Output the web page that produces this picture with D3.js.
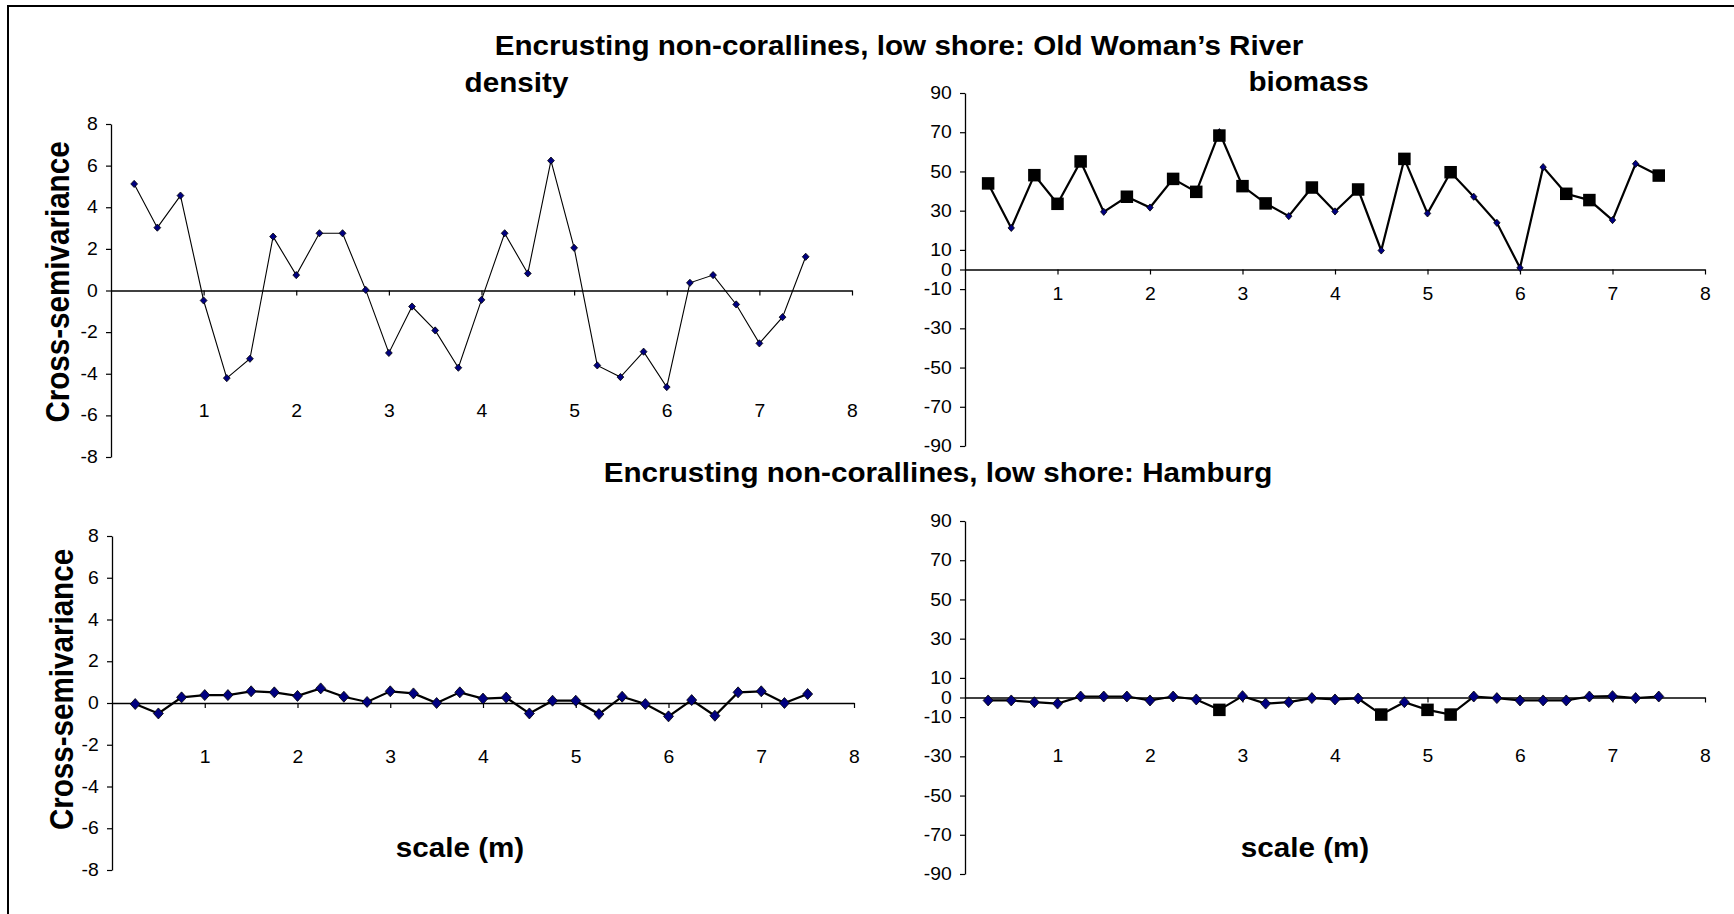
<!DOCTYPE html>
<html>
<head>
<meta charset="utf-8">
<script src="https://cdn.jsdelivr.net/npm/d3@7"></script>
<style>
  html, body { margin: 0; padding: 0; background: #fff; }
  svg { display: block; }
  text { font-family: "Liberation Sans", Arial, Helvetica, sans-serif; fill: #000; }
</style>
</head>
<body>
<svg id="chart" width="1734" height="914"></svg>
<script>
// Lag distances (m) shared by all four cross-semivariograms
const scaleM = [0.25, 0.5, 0.75, 1.0, 1.25, 1.5, 1.75, 2.0, 2.25, 2.5, 2.75, 3.0, 3.25, 3.5, 3.75,
                4.0, 4.25, 4.5, 4.75, 5.0, 5.25, 5.5, 5.75, 6.0, 6.25, 6.5, 6.75, 7.0, 7.25, 7.5];

// Old Woman's River
const densityOWR = [5.12, 3.02, 4.56, -0.48, -4.21, -3.28, 2.59, 0.74, 2.75, 2.75, 0.03, -3.0, -0.77, -1.92, -3.71,
                    -0.45, 2.75, 0.82, 6.24, 2.05, -3.6, -4.16, -2.94, -4.64, 0.37, 0.74, -0.67, -2.54, -1.28, 1.62];
const biomassOWR = [43.9, 21.2, 48.1, 33.5, 55.1, 29.4, 37.1, 31.6, 46.2, 39.6, 70.0, 42.5, 33.7, 27.2, 41.8,
                    29.6, 40.8, 9.7, 56.4, 28.6, 49.6, 37.1, 23.8, 0.85, 52.2, 38.6, 35.4, 25.2, 53.9, 47.9];
const biomassOWRSig = [43.9, null, 48.1, 33.5, 55.1, null, 37.1, null, 46.2, 39.6, 68.3, 42.5, 33.7, null, 41.8,
                       null, 40.8, null, 56.4, null, 49.6, null, null, null, null, 38.6, 35.4, null, null, 47.9];

// Hamburg
const densityHam = [-0.05, -0.5, 0.27, 0.38, 0.38, 0.56, 0.51, 0.34, 0.70, 0.30, 0.05, 0.56, 0.46, 0.0, 0.51,
                    0.21, 0.26, -0.5, 0.11, 0.11, -0.53, 0.30, -0.05, -0.64, 0.14, -0.61, 0.51, 0.56, 0.0, 0.43];
const biomassHam = [-1.5, -1.5, -2.4, -3.1, 0.5, 0.5, 0.5, -1.5, 0.5, -1.0, -6.3, 0.7, -3.1, -2.4, -0.3,
                    -1.0, -0.5, -8.7, -2.4, -6.3, -8.7, 0.5, -0.3, -1.5, -1.5, -1.5, 0.5, 0.7, -0.3, 0.5];
const biomassHamSig = [null, null, null, null, null, null, null, null, null, null, -6.3, null, null, null, null,
                       null, null, -8.7, null, -6.3, -8.7, null, null, null, null, null, null, null, null, null];

// Axis ticks
const xTicks = [1, 2, 3, 4, 5, 6, 7, 8];
const densityTicks = [-8, -6, -4, -2, 0, 2, 4, 6, 8];
const biomassTicks = [-90, -70, -50, -30, -10, 0, 10, 30, 50, 70, 90];

// Text labels
const mainTitleTop = "Encrusting non-corallines, low shore: Old Woman\u2019s River";
const mainTitleBottom = "Encrusting non-corallines, low shore: Hamburg";
const colTitles = ["density", "biomass"];
const yTitle = "Cross-semivariance";
const xTitle = "scale (m)";

const SX = 1.106; // horizontal glyph stretch of the figure
const svg = d3.select("#chart");
svg.append("rect").attr("width", 1734).attr("height", 914).attr("fill", "#fff");
// outer frame
svg.append("rect").attr("x", 8).attr("y", 6).attr("width", 1800).attr("height", 1000)
  .attr("fill", "none").attr("stroke", "#000").attr("stroke-width", 2);

function stext(parent, x, y, txt, size, weight, rotate) {
  return parent.append("text")
    .attr("transform", `translate(${x},${y}) scale(${SX},1)` + (rotate ? " rotate(-90)" : ""))
    .attr("text-anchor", "middle")
    .style("font-size", size + "px")
    .style("font-weight", weight)
    .text(txt);
}

function diamondPath(w, h) {
  return `M0,${-h}L${w},0L0,${h}L${-w},0Z`;
}

const plainNum = d => String(d);

const panels = [
  { vals: densityOWR, sig: null, xr: [111, 852], yr: [457, 124], dom: [-8, 8], ticks: densityTicks,
    labelBase: 417, lw: 1.1, dw: 3.4, dh: 3.6 },
  { vals: biomassOWR, sig: biomassOWRSig, xr: [965, 1705], yr: [446, 93], dom: [-90, 90], ticks: biomassTicks,
    labelBase: 300, lw: 2.2, dw: 3.2, dh: 3.6 },
  { vals: densityHam, sig: null, xr: [112, 854], yr: [870, 536], dom: [-8, 8], ticks: densityTicks,
    labelBase: 763, lw: 2.2, dw: 5, dh: 5.5 },
  { vals: biomassHam, sig: biomassHamSig, xr: [965, 1705], yr: [874, 521], dom: [-90, 90], ticks: biomassTicks,
    labelBase: 762, lw: 2.2, dw: 5, dh: 5.5 }
];

const fs = 17.5;
panels.forEach(p => {
  const x = d3.scaleLinear().domain([0, 8]).range(p.xr);
  const y = d3.scaleLinear().domain(p.dom).range(p.yr);
  const g = svg.append("g");
  const y0 = y(0);

  // y axis
  const ya = g.append("g").attr("transform", `translate(${p.xr[0]},0)`)
    .call(d3.axisLeft(y).tickValues(p.ticks).tickSize(5).tickSizeOuter(0).tickPadding(7)
      .tickFormat(plainNum));
  ya.select(".domain").attr("stroke", "#000").attr("stroke-width", 1.3);
  ya.selectAll(".tick line").attr("stroke", "#000").attr("stroke-width", 1.2);
  ya.selectAll(".tick text")
    .attr("transform", `scale(${SX},1)`)
    .style("font-size", fs + "px").style("font-family", "'Liberation Sans', Arial, sans-serif").attr("fill", "#000");

  // x axis across the zero line
  const xa = g.append("g").attr("transform", `translate(0,${y0})`)
    .call(d3.axisBottom(x).tickValues(xTicks).tickSize(5).tickSizeOuter(0)
      .tickPadding(p.labelBase - y0 - 5 - 0.71 * fs).tickFormat(plainNum));
  xa.select(".domain").attr("stroke", "#000").attr("stroke-width", 1.5);
  xa.selectAll(".tick line").attr("stroke", "#000").attr("stroke-width", 1.2);
  xa.selectAll(".tick text")
    .attr("transform", `scale(${SX},1)`)
    .style("font-size", fs + "px").style("font-family", "'Liberation Sans', Arial, sans-serif").attr("fill", "#000");

  // series line
  const line = d3.line().x((d, i) => x(scaleM[i])).y(d => y(d));
  g.append("path").datum(p.vals).attr("d", line)
    .attr("fill", "none").attr("stroke", "#000").attr("stroke-width", p.lw).attr("stroke-linejoin", "miter");

  // diamond markers
  g.selectAll(".dia").data(p.vals).join("path")
    .attr("transform", (d, i) => `translate(${x(scaleM[i])},${y(d)})`)
    .attr("d", diamondPath(p.dw, p.dh))
    .attr("fill", "#000080").attr("stroke", "#000").attr("stroke-width", 0.8);

  // square markers for the flagged lags
  if (p.sig) {
    const s = 12.5;
    g.selectAll(".sq").data(p.sig.map((v, i) => ({ v, i })).filter(d => d.v !== null)).join("rect")
      .attr("x", d => x(scaleM[d.i]) - s / 2).attr("y", d => y(d.v) - s / 2)
      .attr("width", s).attr("height", s).attr("fill", "#000");
  }
});

// titles
stext(svg, 899, 55, mainTitleTop, 26.8, "bold");
stext(svg, 516.5, 92, colTitles[0], 26.8, "bold");
stext(svg, 1308.5, 91, colTitles[1], 26.8, "bold");
stext(svg, 938, 482, mainTitleBottom, 26.8, "bold");
stext(svg, 460, 857, xTitle, 26.8, "bold");
stext(svg, 1305, 857, xTitle, 26.8, "bold");
stext(svg, 69, 282, yTitle, 29.6, "bold", true);
stext(svg, 73, 689.5, yTitle, 29.6, "bold", true);
</script>
</body>
</html>
